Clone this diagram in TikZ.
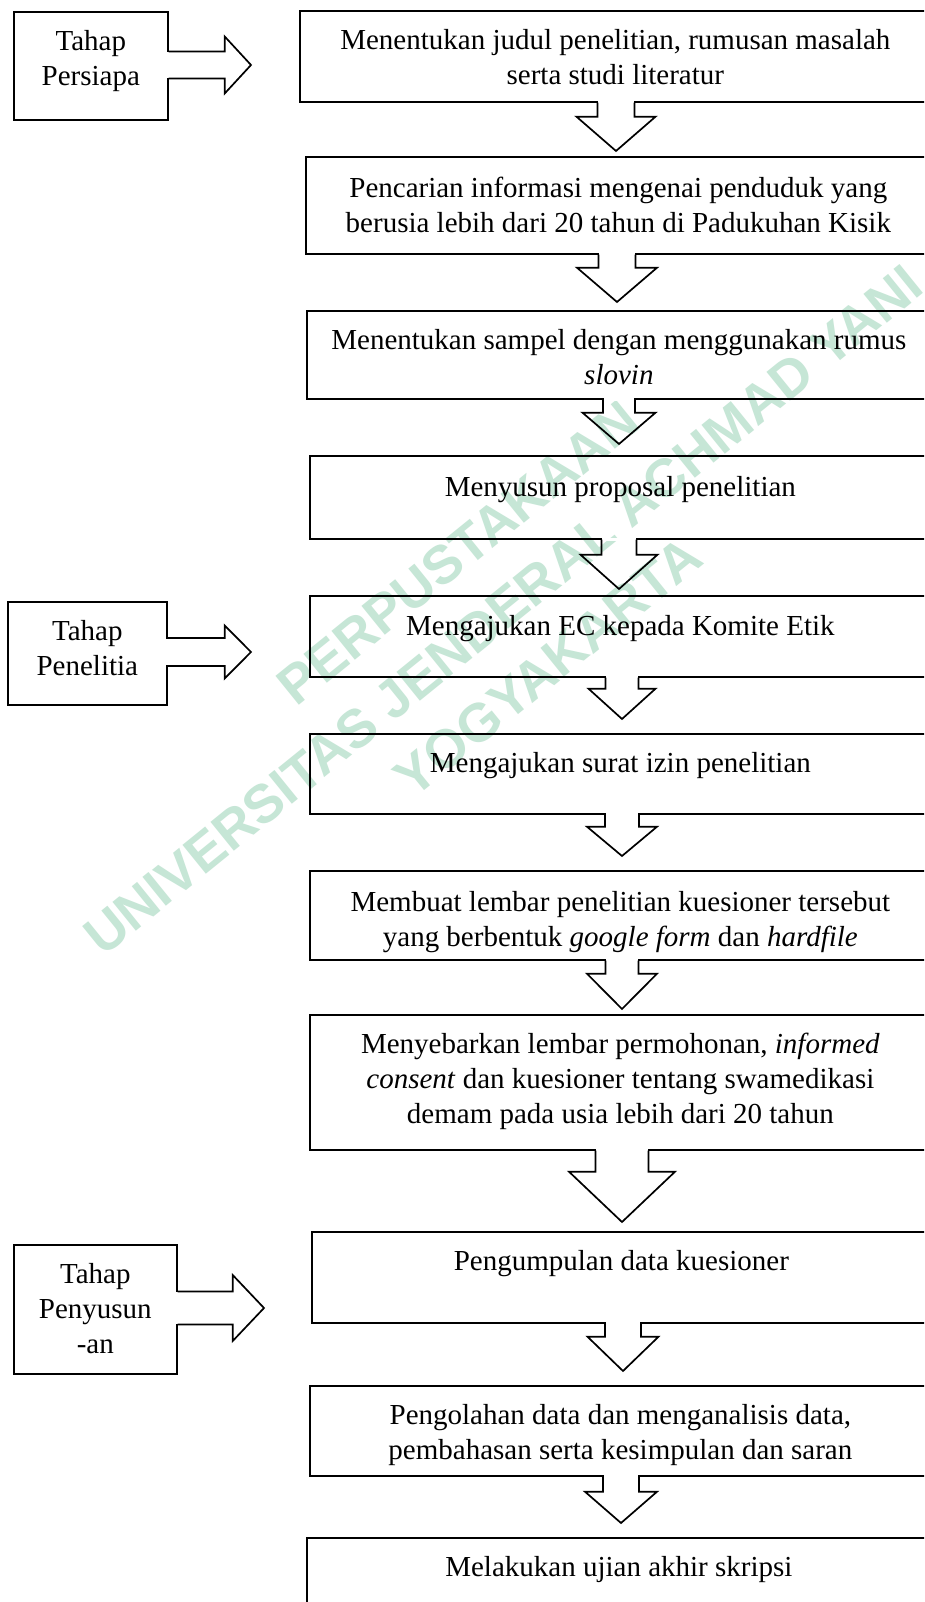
\documentclass[tikz,border=0pt]{standalone}
\usepackage{fontspec}
\setmainfont{Liberation Serif}
\newfontfamily\wmfont{Liberation Sans}
\usetikzlibrary{calc}
\definecolor{wm}{RGB}{198,230,214}
% down block arrow: #1 from, #2 to, #3 centre x, #4 head-back offset, #5 shaft half width, #6 head half width, #7 gap to target
\newcommand{\blkdown}[7]{%
  \fill[white] let \p1=(#1.south) in (#3pt-#5pt+0.9pt,\y1+1.7pt) rectangle (#3pt+#5pt-0.9pt,\y1-1.7pt);
  \draw[blk] let \p1=(#1.south), \p2=(#2.north) in
    (#3pt-#5pt,\y1) -- (#3pt-#5pt,\y1-#4pt) -- (#3pt-#6pt,\y1-#4pt) -- (#3pt,\y2+#7pt)
    -- (#3pt+#6pt,\y1-#4pt) -- (#3pt+#5pt,\y1-#4pt) -- (#3pt+#5pt,\y1);
}
% right block arrow: #1 from, #2 to, #3 centre y, #4 shaft length, #5 shaft half width, #6 head half width, #7 gap to target
\newcommand{\blkright}[7]{%
  \fill[white] let \p1=(#1.east) in (\x1-1.7pt,-#3pt+#5pt-0.9pt) rectangle (\x1+1.7pt,-#3pt-#5pt+0.9pt);
  \draw[blk] let \p1=(#1.east), \p2=(#2.west) in
    (\x1,-#3pt+#5pt) -- (\x1+#4pt,-#3pt+#5pt) -- (\x1+#4pt,-#3pt+#6pt) -- (\x2-#7pt,-#3pt)
    -- (\x1+#4pt,-#3pt-#6pt) -- (\x1+#4pt,-#3pt-#5pt) -- (\x1,-#3pt-#5pt);
}
\begin{document}
\begin{tikzpicture}[x=1pt,y=-1pt,
  box/.style={draw, line width=1.7pt, rectangle, inner sep=0pt, anchor=north west},
  txt/.style={font=\fontsize{29}{35}\selectfont, inner sep=0pt, anchor=north, align=center},
  blk/.style={draw, line width=1.7pt, line join=miter},
  wmtext/.style={text=wm, font=\wmfont\bfseries\fontsize{54}{60}\selectfont, rotate=39, inner sep=0pt}]
\useasboundingbox (0,0) rectangle (924,1602);
\clip (0,0) rectangle (924,1602);
\fill[white] (0,0) rectangle (924,1602);

% watermark
\node[wmtext] (w1) at (458,553) {PERPUSTAKAAN};
\node[wmtext] (w2) at (503,610) {UNIVERSITAS JENDERAL ACHMAD YANI};
\node[wmtext] (w3) at (548,667) {YOGYAKARTA};

% phase boxes
\node[box, minimum width=154pt, minimum height=108pt] (p1) at (13,11) {};
\node[box, minimum width=159pt, minimum height=103pt] (p2) at (7,601) {};
\node[box, minimum width=163pt, minimum height=129pt] (p3) at (13,1244) {};

% step boxes
\node[box, minimum width=631pt, minimum height=91pt]  (b1)  at (299,10) {};
\node[box, minimum width=625pt, minimum height=97pt]  (b2)  at (305,156) {};
\node[box, minimum width=624pt, minimum height=88pt]  (b3)  at (306,310) {};
\node[box, minimum width=621pt, minimum height=83pt]  (b4)  at (309,455) {};
\node[box, minimum width=621pt, minimum height=81pt]  (b5)  at (309,595) {};
\node[box, minimum width=621pt, minimum height=80pt]  (b6)  at (309,733) {};
\node[box, minimum width=621pt, minimum height=89pt]  (b7)  at (309,870) {};
\node[box, minimum width=621pt, minimum height=135pt] (b8)  at (309,1014) {};
\node[box, minimum width=619pt, minimum height=91pt]  (b9)  at (311,1231) {};
\node[box, minimum width=621pt, minimum height=90pt]  (b10) at (309,1385) {};
\node[box, minimum width=624pt, minimum height=103pt] (b11) at (306,1537) {};

% texts
\node[txt] (tp1) at ($(p1.north)+(0,15)$) {\strut Tahap\\Persiapa};
\node[txt] (tp2) at ($(p2.north)+(0,15)$) {\strut Tahap\\Penelitia};
\node[txt] (tp3) at ($(p3.north)+(0,15)$) {\strut Tahap\\Penyusun\\-an};

\node[txt] (t1)  at ($(b1.north)+(0,15)$)  {\strut Menentukan judul penelitian, rumusan masalah\\serta studi literatur};
\node[txt] (t2)  at ($(b2.north)+(0,17)$)  {\strut Pencarian informasi mengenai penduduk yang\\berusia lebih dari 20 tahun di Padukuhan Kisik};
\node[txt] (t3)  at ($(b3.north)+(0,15)$)  {\strut Menentukan sampel dengan menggunakan rumus\\\textit{slovin}};
\node[txt] (t4)  at ($(b4.north)+(0,17)$)  {\strut Menyusun proposal penelitian};
\node[txt] (t5)  at ($(b5.north)+(0,16)$)  {\strut Mengajukan EC kepada Komite Etik};
\node[txt] (t6)  at ($(b6.north)+(0,15)$)  {\strut Mengajukan surat izin penelitian};
\node[txt] (t7)  at ($(b7.north)+(0,17)$)  {\strut Membuat lembar penelitian kuesioner tersebut\\yang berbentuk \textit{google form} dan \textit{hardfile}};
\node[txt] (t8)  at ($(b8.north)+(0,15)$)  {\strut Menyebarkan lembar permohonan, \textit{informed}\\\textit{consent} dan kuesioner tentang swamedikasi\\demam pada usia lebih dari 20 tahun};
\node[txt] (t9)  at ($(b9.north)+(0,15)$)  {\strut Pengumpulan data kuesioner};
\node[txt] (t10) at ($(b10.north)+(0,15)$) {\strut Pengolahan data dan menganalisis data,\\pembahasan serta kesimpulan dan saran};
\node[txt] (t11) at ($(b11.north)+(0,15)$) {\strut Melakukan ujian akhir skripsi};

% right block arrows
\blkright{p1}{b1}{65}{56}{13.5}{28.5}{48}
\blkright{p2}{b5}{652}{57}{14}{26.5}{58}
\blkright{p3}{b9}{1308}{55}{16.5}{33}{47}

% down block arrows
\blkdown{b1}{b2}{616}{14}{18.5}{39.5}{5}
\blkdown{b2}{b3}{617}{13}{18.5}{40}{8}
\blkdown{b3}{b4}{619}{13}{16}{36.5}{11}
\blkdown{b4}{b5}{619}{15}{17.5}{38.5}{6}
\blkdown{b5}{b6}{622}{11}{16.5}{33.5}{14}
\blkdown{b6}{b7}{622}{12}{17}{35}{14}
\blkdown{b7}{b8}{622}{13}{16.5}{35}{5}
\blkdown{b8}{b9}{622}{21}{26.5}{53}{9}
\blkdown{b9}{b10}{623}{13}{18}{35.5}{14}
\blkdown{b10}{b11}{621}{15}{18}{36}{14}
\end{tikzpicture}
\end{document}
